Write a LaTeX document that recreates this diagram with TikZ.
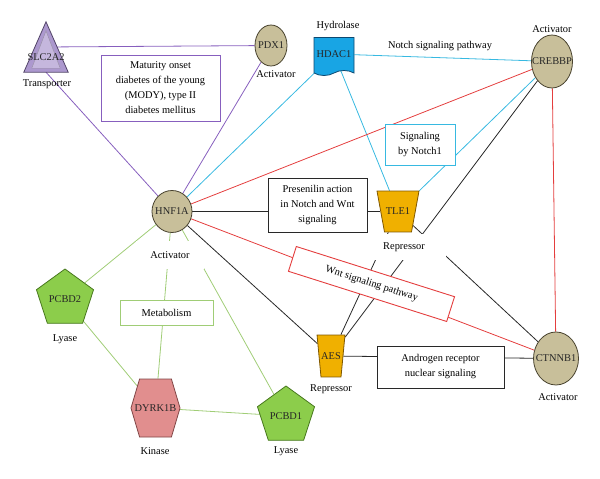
\documentclass[tikz,border=0pt]{standalone}
\usepackage{amsmath,amssymb}
\usepackage{fontspec}
\setmainfont{Liberation Serif}
\usepackage{tikz}
\usetikzlibrary{shapes.geometric,shapes.symbols,backgrounds}

\definecolor{purp}{RGB}{135,95,190}
\definecolor{cyanl}{RGB}{55,185,225}
\definecolor{redl}{RGB}{228,62,62}
\definecolor{greenl}{RGB}{160,205,118}
\definecolor{blk}{RGB}{40,40,40}
\definecolor{khaki}{RGB}{200,191,154}
\definecolor{khakid}{RGB}{72,66,46}
\definecolor{lav}{RGB}{172,152,206}
\definecolor{lavd}{RGB}{82,68,104}
\definecolor{hblue}{RGB}{24,165,228}
\definecolor{hblued}{RGB}{12,72,112}
\definecolor{orng}{RGB}{240,176,0}
\definecolor{orngd}{RGB}{128,88,0}
\definecolor{grn}{RGB}{140,205,75}
\definecolor{grnd}{RGB}{72,120,30}
\definecolor{pnk}{RGB}{225,142,142}
\definecolor{pnkd}{RGB}{128,70,70}

\newcommand{\gn}[1]{\makebox[0pt]{#1}}

\tikzset{
  gene/.style={draw, line width=0.8pt, inner sep=0pt, text=black!85},
  act/.style={gene, ellipse, fill=khaki, draw=khakid},
  rep/.style={gene, trapezium, shape border rotate=180, fill=orng, draw=orngd},
  lyase/.style={gene, regular polygon, regular polygon sides=5, minimum size=60pt, fill=grn, draw=grnd},
  role/.style={inner sep=1pt},
  rolebg/.style={fill=white},
  pway/.style={draw, fill=white, line width=0.9pt, align=center, inner sep=0pt},
  ln/.style={line width=0.8pt}
}

\begin{document}
\begin{tikzpicture}[x=1pt,y=-1pt,font=\fontsize{10.4}{15}\selectfont]
	\useasboundingbox (0,0) rectangle (600,479);

	%% genes
	\node[inner sep=0pt, minimum width=44pt, minimum height=50pt] (slc) at (46,47) {};
	\filldraw[fill=lav, draw=lavd, line width=0.8pt] (slc.north) -- (slc.south east) -- (slc.south west) -- cycle;
	\filldraw[fill=lav!70!white, draw=lavd!60, line width=0.4pt] ([yshift=-9pt]slc.north) -- ([xshift=-8pt,yshift=4pt]slc.south east) -- ([xshift=8pt,yshift=4pt]slc.south west) -- cycle;
	\node[text=black!85] (slcname) at ([yshift=-10pt]slc.center) {SLC2A2};

	\node[act, minimum width=32pt, minimum height=41pt] (pdx1) at (271,45.5) {\gn{PDX1}};
	\node[gene, tape, tape bend top=none, fill=hblue, draw=hblued, minimum width=40pt, minimum height=38pt] (hdac1) at (334,54) {\gn{HDAC1}};
	\node[act, minimum width=41pt, minimum height=53pt] (crebbp) at (552,61.5) {\gn{CREBBP}};
	\node[act, minimum width=40pt, minimum height=42pt] (hnf1a) at (172,211.5) {\gn{HNF1A}};
	\node[rep, trapezium angle=79.6, inner xsep=13.5pt, inner ysep=17pt] (tle1) at (398,211.5) {\gn{TLE1}};
	\node[rep, trapezium angle=84.6, inner xsep=10pt, inner ysep=17.5pt] (aes) at (331,356) {\gn{AES}};
	\node[act, minimum width=45pt, minimum height=53pt] (ctnnb1) at (556,358.5) {\gn{CTNNB1}};
	\node[lyase] (pcbd2) at (65,299) {\gn{PCBD2}};
	\node[lyase] (pcbd1) at (286,416) {\gn{PCBD1}};
	\node[gene, signal, signal to=east and west, signal pointer angle=147, minimum width=49pt, minimum height=58pt, fill=pnk, draw=pnkd] (dyrk1b) at (155.5,408) {\gn{DYRK1B}};

	%% roles
	\node[role] (slcrole) at (47,84) {Transporter};
	\node[role] (pdxrole) at (276,74) {Activator};
	\node[role] (hdacrole) at (338,26) {Hydrolase};
	\node[role] (crebrole) at (552,29) {Activator};
	\node[role, rolebg, minimum width=68pt, minimum height=28pt] (hnfrole) at (170,255) {Activator};
	\node[role, rolebg, minimum width=84pt, minimum height=26pt] (tlerole) at (404,247) {Repressor};
	\node[role] (aesrole) at (331,389) {Repressor};
	\node[role] (ctnrole) at (558,397) {Activator};
	\node[role] (pcbd2role) at (65,339) {Lyase};
	\node[role] (kinrole) at (155,451) {Kinase};
	\node[role] (pcbd1role) at (286,451) {Lyase};

	%% pathways
	\node[pway, draw=purp, minimum width=119pt, minimum height=66pt] (mody) at (160.5,88) {Maturity onset\\diabetes of the young\\(MODY), type II\\diabetes mellitus};
	\node[pway, draw=blk, minimum width=99pt, minimum height=54pt] (presen) at (317.5,205) {Presenilin action\\in Notch and Wnt\\signaling};
	\node[pway, draw=cyanl, minimum width=70pt, minimum height=41pt] (notch1) at (420,144.5) {Signaling\\by Notch1};
	\node (notchpw) at (440,46) {Notch signaling pathway};
	\node[pway, draw=greenl, minimum width=93pt, minimum height=25pt] (metab) at (166.5,312.5) {Metabolism};
	\node[pway, draw=redl, rotate=-17.6, minimum width=166pt, minimum height=26pt] (wnt) at (371.5,284) {Wnt signaling pathway};
	\node[pway, draw=blk, minimum width=127pt, minimum height=42pt] (andro) at (440.5,367) {Androgen receptor\\nuclear signaling};

	%% interactions
	\begin{scope}[on background layer]
		\draw[ln, purp] (slc.center) -- (pdx1);
		\draw[ln, purp] (slc.south) -- (hnf1a);
		\draw[ln, purp] (pdx1) -- (hnf1a);

		\draw[ln, cyanl] (hnf1a) -- (hdac1);
		\draw[ln, cyanl] (hdac1) -- (crebbp);
		\draw[ln, cyanl] (hdac1) -- (tle1);
		\draw[ln, cyanl] (tle1) -- (crebbp);

		\draw[ln, redl] (hnf1a) -- (crebbp);
		\draw[ln, redl] (crebbp) -- (ctnnb1);
		\draw[ln, redl] (hnf1a) -- (ctnnb1);

		\draw[ln, blk] (hnf1a) -- (tle1);
		\draw[ln, blk] (hnf1a) -- (aes);
		\draw[ln, blk] (aes) -- (tle1);
		\draw[ln, blk] (aes) -- (crebbp);
		\draw[ln, blk] (tle1) -- (ctnnb1);
		\draw[ln, blk] (aes) -- (ctnnb1);

		\draw[ln, greenl] (hnf1a) -- (pcbd2);
		\draw[ln, greenl] (hnf1a) -- (dyrk1b);
		\draw[ln, greenl] (hnf1a) -- (pcbd1);
		\draw[ln, greenl] (pcbd2) -- (dyrk1b);
		\draw[ln, greenl] (dyrk1b) -- (pcbd1);
	\end{scope}
\end{tikzpicture}
\end{document}
